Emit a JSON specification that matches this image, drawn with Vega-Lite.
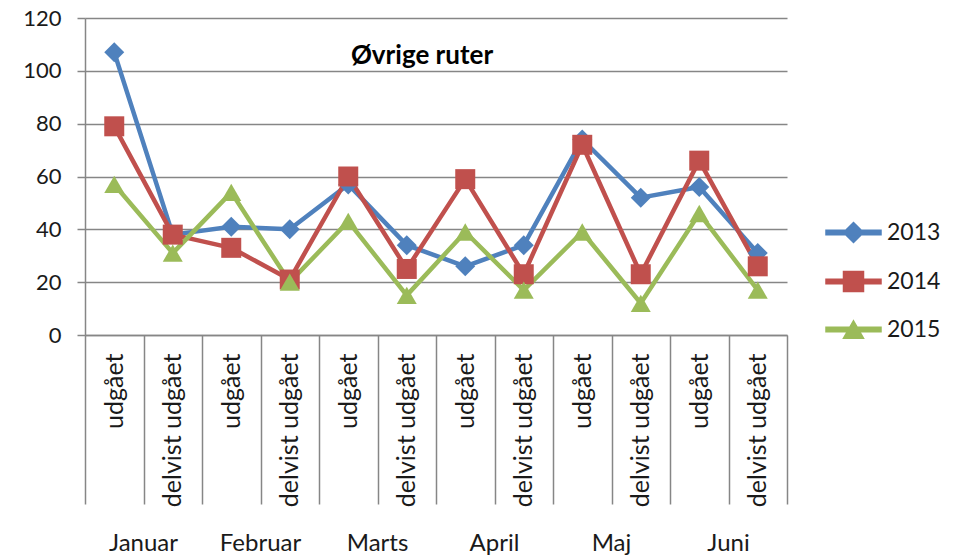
{
  "$schema": "https://vega.github.io/schema/vega-lite/v6.json",
  "width": 702,
  "height": 317,
  "autosize": {"type": "none"},
  "padding": {"left": 85, "top": 18, "right": 172, "bottom": 221},
  "background": "white",
  "config": {"font": "Lato", "view": {"stroke": null}},
  "title": {"text": "Øvrige ruter", "fontSize": 26, "fontWeight": "bold", "font": "Lato", "color": "#000000", "anchor": "middle", "offset": -62, "dx": -14},
  "data": {"values": [
    {"year": "2013", "month": "Januar", "cat": "Januar|udgået", "value": 107},
    {"year": "2013", "month": "Januar", "cat": "Januar|delvist udgået", "value": 38},
    {"year": "2013", "month": "Februar", "cat": "Februar|udgået", "value": 41},
    {"year": "2013", "month": "Februar", "cat": "Februar|delvist udgået", "value": 40},
    {"year": "2013", "month": "Marts", "cat": "Marts|udgået", "value": 57},
    {"year": "2013", "month": "Marts", "cat": "Marts|delvist udgået", "value": 34},
    {"year": "2013", "month": "April", "cat": "April|udgået", "value": 26},
    {"year": "2013", "month": "April", "cat": "April|delvist udgået", "value": 34},
    {"year": "2013", "month": "Maj", "cat": "Maj|udgået", "value": 74},
    {"year": "2013", "month": "Maj", "cat": "Maj|delvist udgået", "value": 52},
    {"year": "2013", "month": "Juni", "cat": "Juni|udgået", "value": 56},
    {"year": "2013", "month": "Juni", "cat": "Juni|delvist udgået", "value": 31},
    {"year": "2014", "month": "Januar", "cat": "Januar|udgået", "value": 79},
    {"year": "2014", "month": "Januar", "cat": "Januar|delvist udgået", "value": 38},
    {"year": "2014", "month": "Februar", "cat": "Februar|udgået", "value": 33},
    {"year": "2014", "month": "Februar", "cat": "Februar|delvist udgået", "value": 21},
    {"year": "2014", "month": "Marts", "cat": "Marts|udgået", "value": 60},
    {"year": "2014", "month": "Marts", "cat": "Marts|delvist udgået", "value": 25},
    {"year": "2014", "month": "April", "cat": "April|udgået", "value": 59},
    {"year": "2014", "month": "April", "cat": "April|delvist udgået", "value": 23},
    {"year": "2014", "month": "Maj", "cat": "Maj|udgået", "value": 72},
    {"year": "2014", "month": "Maj", "cat": "Maj|delvist udgået", "value": 23},
    {"year": "2014", "month": "Juni", "cat": "Juni|udgået", "value": 66},
    {"year": "2014", "month": "Juni", "cat": "Juni|delvist udgået", "value": 26},
    {"year": "2015", "month": "Januar", "cat": "Januar|udgået", "value": 57},
    {"year": "2015", "month": "Januar", "cat": "Januar|delvist udgået", "value": 31},
    {"year": "2015", "month": "Februar", "cat": "Februar|udgået", "value": 54},
    {"year": "2015", "month": "Februar", "cat": "Februar|delvist udgået", "value": 20},
    {"year": "2015", "month": "Marts", "cat": "Marts|udgået", "value": 43},
    {"year": "2015", "month": "Marts", "cat": "Marts|delvist udgået", "value": 15},
    {"year": "2015", "month": "April", "cat": "April|udgået", "value": 39},
    {"year": "2015", "month": "April", "cat": "April|delvist udgået", "value": 17},
    {"year": "2015", "month": "Maj", "cat": "Maj|udgået", "value": 39},
    {"year": "2015", "month": "Maj", "cat": "Maj|delvist udgået", "value": 12},
    {"year": "2015", "month": "Juni", "cat": "Juni|udgået", "value": 46},
    {"year": "2015", "month": "Juni", "cat": "Juni|delvist udgået", "value": 17}
  ]},
  "resolve": {"scale": {"x": "independent"}, "axis": {"x": "independent"}},
  "layer": [
    {
      "encoding": {
        "x": {"field": "cat", "type": "nominal",
          "sort": ["Januar|udgået","Januar|delvist udgået","Februar|udgået","Februar|delvist udgået","Marts|udgået","Marts|delvist udgået","April|udgået","April|delvist udgået","Maj|udgået","Maj|delvist udgået","Juni|udgået","Juni|delvist udgået"],
          "scale": {"type": "band", "paddingInner": 0, "paddingOuter": 0},
          "axis": {"title": null, "labelAngle": 270, "labelAlign": "right", "labelBaseline": "middle",
            "labelExpr": "split(datum.value, '|')[1]", "tickBand": "extent", "tickSize": 169,
            "tickColor": "#868686", "tickWidth": 1.5, "domainColor": "#868686", "domainWidth": 1.5,
            "labelPadding": -151, "labelFontSize": 25, "labelColor": "#1a1a1a", "grid": false, "labelFont": "Lato"}},
        "y": {"field": "value", "type": "quantitative",
          "scale": {"domain": [0, 120], "nice": false},
          "axis": {"title": null, "values": [0, 20, 40, 60, 80, 100, 120], "grid": true, "gridColor": "#868686", "gridWidth": 1.5,
            "tickSize": 8, "tickColor": "#868686", "tickWidth": 1.5, "domainColor": "#868686", "domainWidth": 1.5,
            "labelPadding": 16, "labelFontSize": 22, "labelColor": "#1a1a1a", "labelFont": "Lato"}}
      },
      "layer": [
        {
          "mark": {"type": "line", "strokeWidth": 4.5, "strokeJoin": "round"},
          "encoding": {
            "color": {"field": "year", "type": "nominal",
              "scale": {"domain": ["2013", "2014", "2015"], "range": ["#4F81BD", "#C0504D", "#9BBB59"]},
              "legend": {"title": null, "orient": "none", "legendX": 757, "legendY": 203, "padding": 0,
                "symbolSize": 400, "labelFontSize": 23, "labelFont": "Lato", "labelColor": "#1a1a1a",
                "labelOffset": 22, "rowPadding": 22}}
          }
        },
        {
          "transform": [{"filter": "datum.year === '2013'"}],
          "mark": {"type": "point", "shape": "diamond", "filled": true, "opacity": 1, "size": 400},
          "encoding": {"color": {"field": "year", "type": "nominal"}}
        },
        {
          "transform": [{"filter": "datum.year === '2014'"}],
          "mark": {"type": "point", "shape": "square", "filled": true, "opacity": 1, "size": 400},
          "encoding": {"color": {"field": "year", "type": "nominal"}}
        },
        {
          "transform": [{"filter": "datum.year === '2015'"}],
          "mark": {"type": "point", "shape": "triangle-up", "filled": true, "opacity": 1, "size": 400},
          "encoding": {"color": {"field": "year", "type": "nominal"}}
        },
        {
          "transform": [{"filter": "datum.value > 1000"}],
          "mark": {"type": "point", "filled": true, "opacity": 1, "size": 400},
          "encoding": {
            "color": {"field": "year", "type": "nominal"},
            "shape": {"field": "year", "type": "nominal",
              "scale": {"domain": ["2013", "2014", "2015"], "range": [
                "M-2.75,-0.22L2.75,-0.22L2.75,0.22L-2.75,0.22ZM0,-1L1,0L0,1L-1,0Z",
                "M-2.75,-0.22L2.75,-0.22L2.75,0.22L-2.75,0.22ZM-1,-1L1,-1L1,1L-1,1Z",
                "M-2.75,-0.22L2.75,-0.22L2.75,0.22L-2.75,0.22ZM0,-0.87L1,0.87L-1,0.87Z"]},
              "legend": {"title": null, "orient": "none", "legendX": 757, "legendY": 203, "padding": 0,
                "symbolSize": 400, "labelFontSize": 23, "labelFont": "Lato", "labelColor": "#1a1a1a",
                "labelOffset": 22, "rowPadding": 22}}
          }
        }
      ]
    },
    {
      "mark": {"type": "point", "opacity": 0},
      "encoding": {
        "x": {"field": "month", "type": "nominal",
          "sort": ["Januar", "Februar", "Marts", "April", "Maj", "Juni"],
          "scale": {"type": "band", "paddingInner": 0, "paddingOuter": 0},
          "axis": {"orient": "bottom", "title": null, "ticks": false, "domain": false, "grid": false,
            "labelAngle": 0, "labelPadding": 196, "labelBaseline": "top", "labelAlign": "center",
            "labelFontSize": 24, "labelFont": "Lato", "labelColor": "#1a1a1a"}},
        "y": {"field": "value", "type": "quantitative"}
      }
    }
  ]
}
